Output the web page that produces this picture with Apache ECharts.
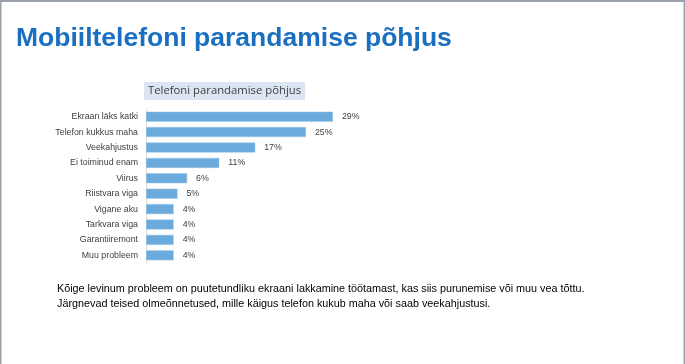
<!DOCTYPE html>
<html><head><meta charset="utf-8">
<script src="https://cdn.jsdelivr.net/npm/echarts@6/dist/echarts.min.js"></script>
<style>html,body{margin:0;padding:0;background:#fff}#c{width:685px;height:364px}</style>
</head><body><div id="c"></div>
<script>
var categories = ["Ekraan läks katki","Telefon kukkus maha","Veekahjustus","Ei toiminud enam","Viirus","Riistvara viga","Vigane aku","Tarkvara viga","Garantiiremont","Muu probleem"];
var values = [29.1, 24.9, 17.0, 11.4, 6.4, 4.9, 4.3, 4.3, 4.3, 4.3];
var mainTitle = "Mobiiltelefoni parandamise põhjus";
var chartTitle = "Telefoni parandamise põhjus";
var bodyLines = ["Kõige levinum probleem on puutetundliku ekraani lakkamine töötamast, kas siis purunemise või muu vea tõttu.","Järgnevad teised olmeõnnetused, mille käigus telefon kukub maha või saab veekahjustusi."];

var chart = echarts.init(document.getElementById('c'), null, {renderer:'canvas'});
chart.setOption({
  animation:false,
  backgroundColor:'#ffffff',
  title:[{
    text: mainTitle, left: 11, top: 20,
    textStyle:{fontFamily:'Liberation Sans, Arial', fontWeight:'bold', fontSize:26.5, color:'#1a6fc1'}
  },{
    text: chartTitle, left: 144, top: 82,
    backgroundColor:'#dce6f2', padding:[3,4,3,4],
    textStyle:{fontFamily:'Open Sans, Liberation Sans', fontWeight:'normal', fontSize:11.3, color:'#404040', lineHeight:12}
  }],
  grid:{left:146, top:109, width:257, height:154, containLabel:false},
  xAxis:{type:'value', min:0, max:40, show:false},
  yAxis:{type:'category', data:categories, inverse:true,
    axisLine:{show:true, lineStyle:{color:'#e0e0e0', width:1}},
    axisTick:{show:false},
    axisLabel:{fontFamily:'Liberation Sans, Arial', fontSize:8.8, color:'#404040', margin:8}
  },
  series:[{
    type:'bar', data:values, barWidth:10,
    itemStyle:{color:'#6aaadc', borderColor:'#9cc6ea', borderWidth:0.5},
    label:{show:true, position:'right', distance:9, fontFamily:'Liberation Sans, Arial', fontSize:8.8, color:'#404040',
      formatter:function(p){return Math.round(p.value)+'%';}}
  }],
  graphic:[
    {type:'rect', shape:{x:0,y:0,width:685,height:2}, style:{fill:'#9ba1aa'}, silent:true},
    {type:'rect', shape:{x:0,y:0,width:1.5,height:364}, style:{fill:'#9ba1aa'}, silent:true},
    {type:'rect', shape:{x:683.5,y:0,width:1.5,height:364}, style:{fill:'#9ba1aa'}, silent:true},
    {type:'text', left:57, top:281.5, style:{text:bodyLines.join('\n'), fontFamily:'Liberation Sans, Arial', fontSize:10.8, lineHeight:15, fill:'#000000'}}
  ]
});
</script></body></html>
